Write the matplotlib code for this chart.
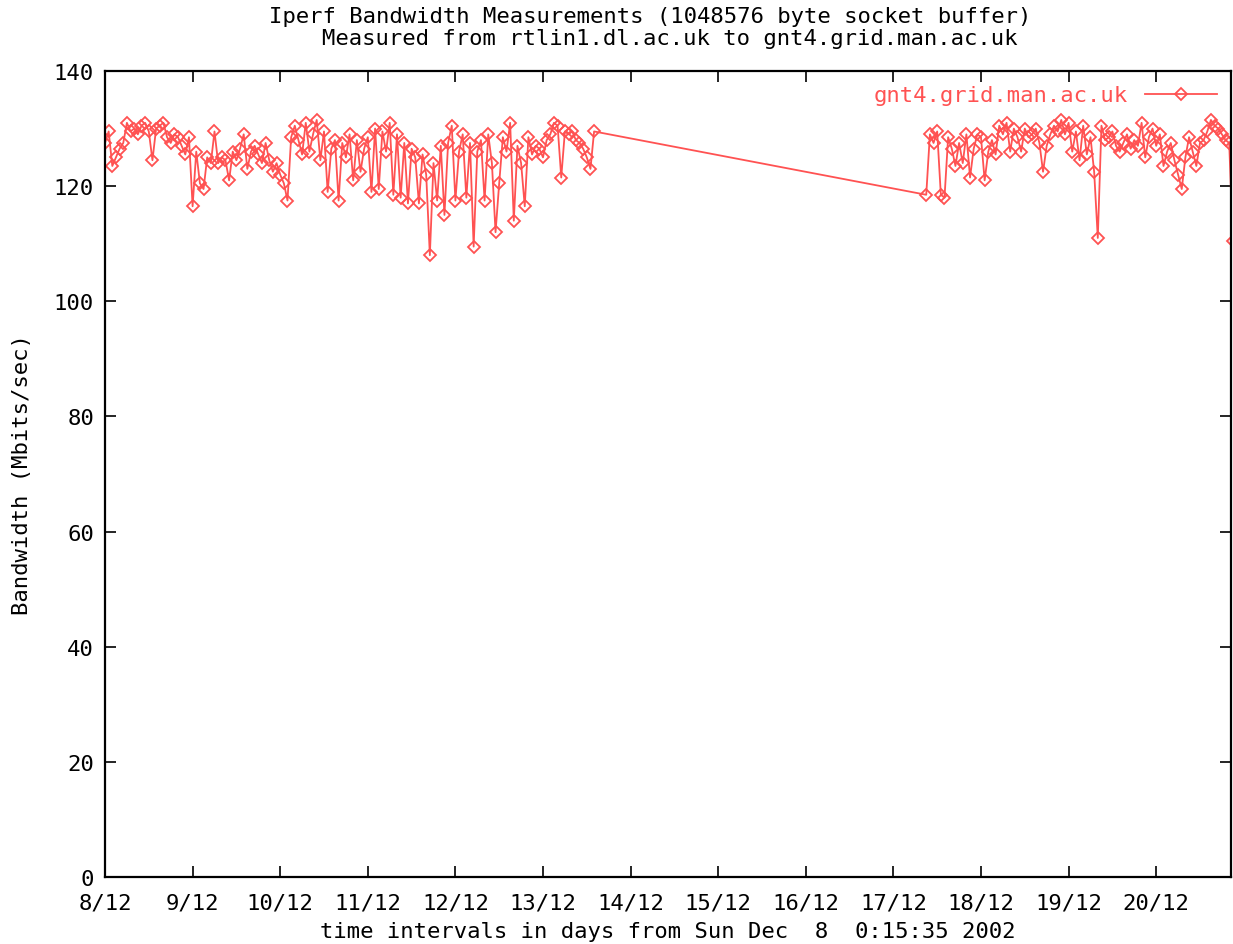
import numpy as np
import matplotlib
matplotlib.use("Agg")
import matplotlib.pyplot as plt

# measurement hours (from Sun Dec 8 0:15:35 2002), one test per hour
start1 = 0      # first run of tests
start2 = 225    # tests resume after the gap

bw1 = [127.5, 129.5, 123.5, 125.0, 126.5, 127.5, 131.0, 129.5, 130.0, 129.0, 130.5, 131.0,
       129.5, 124.5, 130.0, 130.5, 131.0, 128.5, 127.5, 129.0, 128.5, 127.0, 125.5, 128.5,
       116.5, 126.0, 120.5, 119.5, 125.0, 124.0, 129.5, 124.0, 125.0, 124.5, 121.0, 126.0,
       124.5, 126.5, 129.0, 123.0, 126.0, 127.0, 125.5, 124.0, 127.5, 124.5, 122.5, 124.0,
       122.0, 120.5, 117.5, 128.5, 130.5, 128.0, 125.5, 131.0, 126.0, 129.0, 131.5, 124.5,
       129.5, 119.0, 126.5, 128.0, 117.5, 127.5, 125.0, 129.0, 121.0, 128.0, 122.5, 126.5,
       128.5, 119.0, 130.0, 119.5, 129.5, 126.0, 131.0, 118.5, 129.0, 118.0, 127.5, 117.0,
       126.5, 125.0, 117.0, 125.5, 122.0, 108.0, 124.0, 117.5, 127.0, 115.0, 127.5, 130.5,
       117.5, 126.0, 129.0, 118.0, 127.5, 109.5, 126.0, 128.0, 117.5, 129.0, 124.0, 112.0,
       120.5, 128.5, 126.0, 131.0, 114.0, 127.0, 124.0, 116.5, 128.5, 125.5, 127.0, 126.5,
       125.0, 128.0, 129.0, 131.0, 130.5, 121.5, 129.5, 129.0, 129.5, 128.0, 127.5, 126.5,
       125.0, 123.0, 129.5]

bw2 = [118.5, 129.0, 127.5, 129.5, 118.5, 118.0, 128.5, 126.5, 123.5, 127.5, 124.0, 129.0,
       121.5, 126.5, 129.0, 128.5, 121.0, 126.0, 128.0, 125.5,
       130.5, 129.0, 131.0, 126.0, 130.0, 128.5, 126.0, 130.0, 128.5, 129.0, 130.0, 127.5,
       122.5, 127.0, 129.0, 130.5, 129.5, 131.5, 129.0, 131.0,
       126.0, 129.5, 124.5, 130.5, 125.5, 128.5, 122.5, 111.0, 130.5, 128.0, 128.5, 129.5,
       127.0, 126.0, 127.5, 129.0, 126.5, 128.0, 127.0, 131.0,
       125.0, 128.5, 130.0, 127.0, 129.0, 123.5, 126.0, 127.5, 124.5, 122.0, 119.5, 125.0,
       128.5, 126.0, 123.5, 127.5, 128.0, 129.5, 131.5, 130.5, 130.0, 129.0, 128.0, 127.5,
       110.5]

day_labels = ["8/12", "9/12", "10/12", "11/12", "12/12", "13/12", "14/12",
              "15/12", "16/12", "17/12", "18/12", "19/12", "20/12"]

hours = np.concatenate([start1 + np.arange(len(bw1)), start2 + np.arange(len(bw2))])
days = hours / 24.0
bw = np.array(bw1 + bw2)

red = "#ff5252"
mono = "DejaVu Sans Mono"
fs = 16

fig = plt.figure(figsize=(12.33, 9.45), dpi=100)
ax = fig.add_axes([105/1233, 67/945, 1126/1233, 806/945])

ax.plot(days, bw, color=red, lw=1.3, marker="D", ms=6, mfc="none", mec=red, mew=1.3,
        label="gnt4.grid.man.ac.uk")

ax.set_xlim(0, 12.854)
ax.set_ylim(0, 140)
ax.set_xticks(range(len(day_labels)))
ax.set_xticklabels(day_labels, fontfamily=mono, fontsize=fs)
ax.set_yticks(range(0, 141, 20))
ax.set_yticklabels([str(v) for v in range(0, 141, 20)], fontfamily=mono, fontsize=fs)
ax.tick_params(direction="in", length=8, width=1.2, top=True, right=True)
ax.tick_params(axis="x", pad=11)
ax.tick_params(axis="y", pad=8)
for sp in ax.spines.values():
    sp.set_linewidth(1.6)

ax.set_xlabel("time intervals in days from Sun Dec  8  0:15:35 2002",
              fontfamily=mono, fontsize=fs, labelpad=6)
ax.set_ylabel("Bandwidth (Mbits/sec)", fontfamily=mono, fontsize=fs, labelpad=16)

fig.text(650/1233, 1 - 17/945, "Iperf Bandwidth Measurements (1048576 byte socket buffer)",
         ha="center", va="center", fontfamily=mono, fontsize=fs)
fig.text(670/1233, 1 - 39/945, "Measured from rtlin1.dl.ac.uk to gnt4.grid.man.ac.uk",
         ha="center", va="center", fontfamily=mono, fontsize=fs)

leg = ax.legend(loc="upper right", frameon=False, markerfirst=False, handlelength=3.2,
                prop={"family": mono, "size": fs}, borderaxespad=0.25, handletextpad=0.8)
for t in leg.get_texts():
    t.set_color(red)

fig.savefig("out.png", dpi=100)
